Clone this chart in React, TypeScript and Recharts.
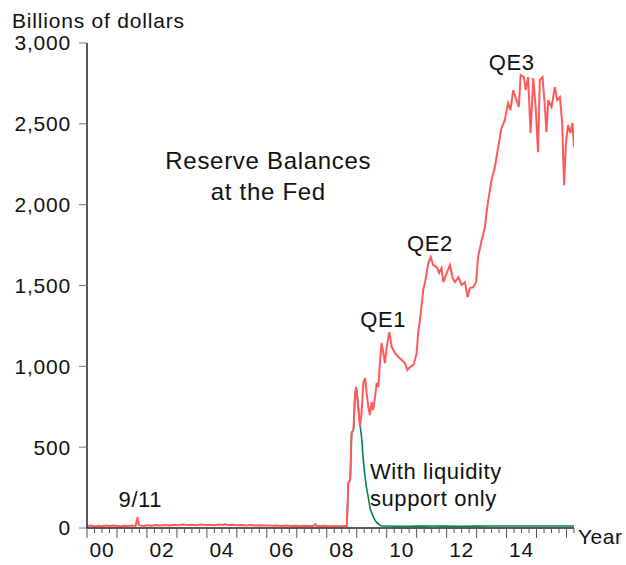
import { LineChart, Line, XAxis, YAxis, ReferenceDot } from "recharts";

// Reserve balances (billions of dollars)
const reserveYears = [
    2000.0, 2000.12, 2000.25, 2000.38, 2000.5, 2000.62, 2000.75, 2000.88, 2001.0, 2001.12,
    2001.25, 2001.38, 2001.5, 2001.62, 2001.69, 2001.7, 2001.72, 2001.76, 2001.88, 2002.0,
    2002.15, 2002.3, 2002.45, 2002.6, 2002.75, 2002.9, 2003.05, 2003.2, 2003.35, 2003.5,
    2003.65, 2003.8, 2003.95, 2004.1, 2004.25, 2004.4, 2004.55, 2004.6, 2004.7, 2004.85,
    2005.0, 2005.15, 2005.3, 2005.45, 2005.6, 2005.75, 2005.9, 2006.05, 2006.2, 2006.35,
    2006.5, 2006.65, 2006.8, 2006.95, 2007.1, 2007.25, 2007.4, 2007.55, 2007.62, 2007.65,
    2007.8, 2007.95, 2008.1, 2008.25, 2008.4, 2008.55, 2008.67,
    2008.72, 2008.78, 2008.83, 2008.89, 2008.94, 2008.98, 2009.05, 2009.11, 2009.17, 2009.22,
    2009.28, 2009.33, 2009.39, 2009.44, 2009.5, 2009.55, 2009.61, 2009.67, 2009.72, 2009.78,
    2009.83, 2009.89, 2009.94, 2010.0, 2010.09, 2010.17, 2010.28, 2010.39, 2010.5, 2010.61,
    2010.69, 2010.78, 2010.89, 2010.94, 2011.0, 2011.05, 2011.11, 2011.22, 2011.28, 2011.39,
    2011.47, 2011.55, 2011.67, 2011.75, 2011.83, 2011.89, 2012.0, 2012.11, 2012.2, 2012.28,
    2012.39, 2012.5, 2012.61, 2012.7, 2012.78, 2012.89, 2012.98, 2013.05, 2013.17, 2013.28,
    2013.33, 2013.39, 2013.5, 2013.61, 2013.72, 2013.83, 2013.94, 2014.05, 2014.13, 2014.22,
    2014.33, 2014.41, 2014.47, 2014.58, 2014.64, 2014.72, 2014.8, 2014.89, 2014.97, 2015.05,
    2015.11, 2015.2, 2015.28, 2015.33, 2015.39, 2015.5, 2015.61, 2015.69, 2015.78, 2015.85,
    2015.92, 2015.98, 2016.05, 2016.13, 2016.2, 2016.25,
];
const reserveBillions = [
    12, 15, 10, 14, 11, 16, 12, 15, 13, 11,
    14, 12, 15, 13, 68, 45, 22, 16, 13, 17,
    14, 18, 15, 19, 16, 20, 17, 21, 18, 20,
    17, 21, 18, 20, 17, 21, 19, 24, 18, 20,
    17, 19, 16, 18, 15, 17, 15, 16, 14, 16,
    13, 15, 13, 14, 12, 14, 12, 13, 24, 13,
    12, 14, 11, 13, 11, 12, 12,
    278, 297, 588, 606, 810, 872, 748, 625, 730, 897,
    928, 835, 748, 699, 779, 730, 810, 897, 872, 1039,
    1144, 1082, 1020, 1119, 1212, 1119, 1082, 1057, 1039, 1020,
    977, 996, 1008, 1039, 1082, 1206, 1286, 1472, 1521, 1639,
    1676, 1627, 1614, 1577, 1608, 1521, 1577, 1627, 1546, 1521,
    1552, 1503, 1521, 1429, 1484, 1490, 1521, 1676, 1781, 1862,
    1950, 2028, 2152, 2233, 2356, 2474, 2523, 2628, 2585, 2709,
    2647, 2604, 2802, 2789, 2709, 2789, 2443, 2783, 2604, 2325,
    2771, 2789, 2604, 2449, 2647, 2604, 2727, 2647, 2665, 2523,
    2121, 2381, 2492, 2443, 2505, 2356,
];

// Counterfactual: liquidity support only
const liquidityYears = [
    2008.55, 2008.67, 2008.72, 2008.78, 2008.83, 2008.89, 2008.94, 2008.98, 2009.09, 2009.17,
    2009.22, 2009.28, 2009.33, 2009.39, 2009.44, 2009.53, 2009.61, 2009.72, 2009.83, 2010.5,
    2011.5, 2012.5, 2013.5, 2014.5, 2015.5, 2016.25,
];
const liquidityBillions = [
    12, 12, 278, 297, 588, 606, 810, 872, 668, 544,
    420, 315, 247, 186, 130, 80, 49, 25, 12, 11,
    12, 11, 12, 12, 12, 12,
];

const yTicks = [0, 500, 1000, 1500, 2000, 2500, 3000];
const labelYears = [2000, 2002, 2004, 2006, 2008, 2010, 2012, 2014];
const yearLabels = ["00", "02", "04", "06", "08", "10", "12", "14"];

const reserveData = reserveYears.map((x, i) => ({ x, v: reserveBillions[i] }));
const liquidityData = liquidityYears.map((x, i) => ({ x, v: liquidityBillions[i] }));

const X_MIN = 2000;
const X_MAX = 2016.25;
const quarterTicks: number[] = [];
for (let q = 0; q <= (X_MAX - X_MIN) * 4; q++) quarterTicks.push(X_MIN + q / 4);

const W = 626;
const H = 565;
const margin = { top: 43, right: 52, bottom: 0, left: 0 };
const Y_AXIS_W = 87;
const PX_PER_YEAR = (W - margin.left - margin.right - Y_AXIS_W) / (X_MAX - X_MIN);
const FONT = "'Liberation Sans', Arial, sans-serif";

function YearTick(props: any) {
    const { x, y, payload } = props;
    const v = payload.value;
    const isYear = Math.abs(v - Math.round(v)) < 1e-6;
    const idx = isYear ? labelYears.indexOf(Math.round(v)) : -1;
    return (
        <g>
            <line x1={x} x2={x} y1={y} y2={y + (isYear ? 10 : 5)} stroke="#555" strokeWidth={1} />
            {idx >= 0 && (
                <text x={x + PX_PER_YEAR / 2} y={y + 29} textAnchor="middle" fontSize={21} fill="#111" letterSpacing={0.8}>
                    {yearLabels[idx]}
                </text>
            )}
        </g>
    );
}

const note = { fontSize: 22, fill: "#111", letterSpacing: 0.6 };

export default function App() {
    return (
        <div style={{ position: "absolute", left: 0, top: 0, width: W, height: H, fontFamily: FONT, background: "#fff" }}>
            <LineChart width={W} height={H} margin={margin}>
                <XAxis
                    type="number"
                    dataKey="x"
                    domain={[X_MIN, X_MAX]}
                    ticks={quarterTicks}
                    interval={0}
                    allowDataOverflow
                    tickLine={false}
                    tickSize={0}
                    tickMargin={0}
                    height={37}
                    axisLine={{ stroke: "#222", strokeWidth: 1.5 }}
                    tick={<YearTick />}
                />
                <YAxis
                    type="number"
                    domain={[0, 3000]}
                    ticks={yTicks}
                    width={Y_AXIS_W}
                    tickSize={8}
                    tickMargin={8}
                    tickFormatter={(v: number) => v.toLocaleString("en-US")}
                    tick={{ fill: "#111", fontSize: 21, letterSpacing: 0.8 }}
                    tickLine={{ stroke: "#777" }}
                    axisLine={{ stroke: "#222", strokeWidth: 1.5 }}
                />
                <Line data={liquidityData} dataKey="v" type="monotone" stroke="#00884a" strokeWidth={1.6} dot={false} isAnimationActive={false} />
                <Line data={reserveData} dataKey="v" type="linear" stroke="#ff5a5a" strokeWidth={2} dot={false} isAnimationActive={false} />
                <ReferenceDot x={2006.05} y={2276} r={0} ifOverflow="visible" label={{ value: "Reserve Balances", position: "center", fontSize: 24, fill: "#111", letterSpacing: 0.7 }} />
                <ReferenceDot x={2006.05} y={2080} r={0} ifOverflow="visible" label={{ value: "at the Fed", position: "center", fontSize: 24, fill: "#111", letterSpacing: 0.7 }} />
                <ReferenceDot x={2001.78} y={179} r={0} ifOverflow="visible" label={{ value: "9/11", position: "center", ...note }} />
                <ReferenceDot x={2009.88} y={1293} r={0} ifOverflow="visible" label={{ value: "QE1", position: "center", ...note }} />
                <ReferenceDot x={2011.44} y={1763} r={0} ifOverflow="visible" label={{ value: "QE2", position: "center", ...note }} />
                <ReferenceDot x={2014.17} y={2884} r={0} ifOverflow="visible" label={{ value: "QE3", position: "center", ...note }} />
                <ReferenceDot x={2009.44} y={349} r={0} ifOverflow="visible" label={{ value: "With liquidity", position: "insideLeft", offset: 0, ...note }} />
                <ReferenceDot x={2009.44} y={182} r={0} ifOverflow="visible" label={{ value: "support only", position: "insideLeft", offset: 0, ...note }} />
            </LineChart>
            <svg width={W} height={H} style={{ position: "absolute", left: 0, top: 0, pointerEvents: "none" }}>
                <text x={12} y={28} fontSize={21} fill="#111" letterSpacing={0.8}>Billions of dollars</text>
                <text x={578} y={544} fontSize={21} fill="#111" letterSpacing={0.5}>Year</text>
            </svg>
        </div>
    );
}
